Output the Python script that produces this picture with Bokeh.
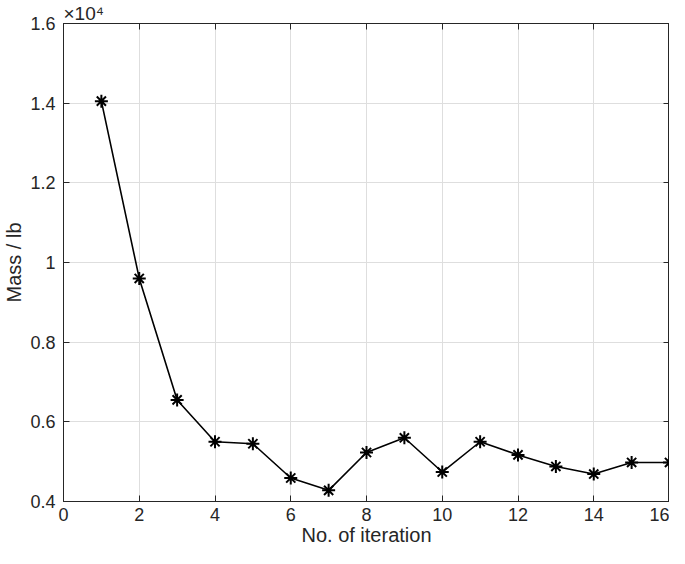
from bokeh.plotting import figure
from bokeh.models import Range1d, LinearAxis, FixedTicker, Title, CustomJSTickFormatter
from bokeh.embed import file_html
from bokeh.resources import INLINE

iterations = list(range(1, 17))
mass_lb = [14050, 9600, 6550, 5500, 5450, 4590, 4280, 5230, 5600, 4740, 5500, 5170, 4880, 4690, 4980, 4980]
x_ticks = [0, 2, 4, 6, 8, 10, 12, 14, 16]
y_ticks = [4000, 6000, 8000, 10000, 12000, 14000, 16000]
y_tick_labels = ["0.4", "0.6", "0.8", "1", "1.2", "1.4", "1.6"]
scale_text = "×10⁴"

FONT = "Liberation Sans"
AX = "#262626"

p = figure(width=669, height=548, output_backend="svg", toolbar_location=None,
           x_range=Range1d(0, 16), y_range=Range1d(4000, 16000),
           min_border_left=54, min_border_right=0, min_border_top=0, min_border_bottom=30)
p.background_fill_color = "white"
p.border_fill_color = "white"
p.outline_line_color = AX
p.outline_line_width = 1

for ax in p.xaxis:
    ax.ticker = FixedTicker(ticks=x_ticks)
    ax.axis_label = "No. of iteration"
for ax in p.yaxis:
    ax.ticker = FixedTicker(ticks=y_ticks)
    ax.major_label_overrides = {t: l for t, l in zip(y_ticks, y_tick_labels)}
    ax.axis_label = "Mass / lb"

for ax in p.xaxis + p.yaxis:
    ax.axis_line_color = AX
    ax.major_tick_line_color = AX
    ax.major_tick_in = 6
    ax.major_tick_out = 0
    ax.minor_tick_line_color = None
    ax.major_label_text_font = FONT
    ax.major_label_text_font_size = "18px"
    ax.major_label_text_color = AX
    ax.axis_label_text_font = FONT
    ax.axis_label_text_font_size = "20px"
    ax.axis_label_text_font_style = "normal"
    ax.axis_label_text_color = AX
p.xaxis.major_label_standoff = 6
p.xaxis.axis_label_standoff = 0
p.yaxis.major_label_standoff = 8
p.yaxis.axis_label_standoff = 2

blank = CustomJSTickFormatter(code="return ''")
top = LinearAxis(ticker=FixedTicker(ticks=x_ticks), formatter=blank)
right = LinearAxis(ticker=FixedTicker(ticks=y_ticks), formatter=blank)
for ax in (top, right):
    ax.axis_line_color = AX
    ax.major_tick_line_color = AX
    ax.major_tick_in = 6
    ax.major_tick_out = 0
    ax.minor_tick_line_color = None
    ax.major_label_text_font_size = "0px"
    ax.major_label_standoff = 0
p.add_layout(top, "above")
p.add_layout(right, "right")

p.add_layout(Title(text=scale_text, align="left", offset=0, standoff=0,
                   text_font=FONT, text_font_size="19px", text_font_style="normal",
                   text_color=AX), "above")

p.xgrid.ticker = FixedTicker(ticks=x_ticks)
p.ygrid.ticker = FixedTicker(ticks=y_ticks)
for g in (p.xgrid, p.ygrid):
    g.grid_line_color = "#dedede"
    g.grid_line_width = 1

p.line(iterations, mass_lb, line_color="black", line_width=1.6)
p.scatter(iterations, mass_lb, marker="asterisk", size=13, line_color="black", line_width=2)

open("out.html", "w").write(file_html(p, INLINE))
